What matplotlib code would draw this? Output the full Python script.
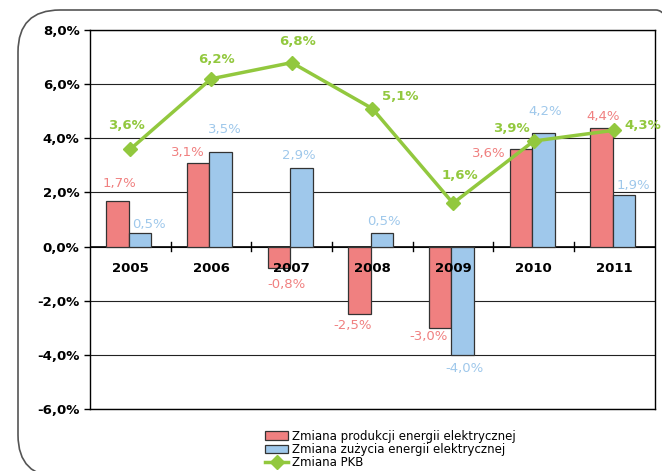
import numpy as np
import matplotlib.pyplot as plt
from matplotlib.patches import FancyBboxPatch

# data
years = ["2005", "2006", "2007", "2008", "2009", "2010", "2011"]
produkcja = [1.7, 3.1, -0.8, -2.5, -3.0, 3.6, 4.4]
zuzycie = [0.5, 3.5, 2.9, 0.5, -4.0, 4.2, 1.9]
pkb = [3.6, 6.2, 6.8, 5.1, 1.6, 3.9, 4.3]
yticks = [-6, -4, -2, 0, 2, 4, 6, 8]

red = "#F08080"
blue = "#9FC8EB"
green = "#92C83E"

# label offsets in pixels (dx, dy up)
red_off = [(0, 17), (-12, 10), (6, -16), (-8, -11), (-13, -9), (-34, -4), (0, 11)]
blue_off = [(7, 9), (3, 22), (-4, 13), (0, 12), (0, -14), (0, 21), (8, 10)]
pkb_off = [(-4, 24), (5, 19), (6, 21), (28, 12), (7, 28), (-22, 13), (28, 5)]

plt.rcParams["font.family"] = "DejaVu Sans"

fig = plt.figure(figsize=(6.62, 4.71), dpi=100)
ax = fig.add_axes([0.136, 0.132, 0.853, 0.804])

x = np.arange(len(years))
w = 0.28
px = 0.72  # points per pixel at dpi 100

# rounded outer frame, in pixels
frame = FancyBboxPatch((18, -6), 680, 467,
                       boxstyle="round,pad=0,rounding_size=42",
                       transform=None, fill=False,
                       edgecolor="#555555", linewidth=1.2, zorder=0)
fig.patches.append(frame)

ax.set_ylim(-6, 8)
ax.set_xlim(-0.5, len(years) - 0.5)
ax.set_yticks(yticks)
ax.set_yticklabels([f"{v:.1f}%".replace(".", ",") for v in yticks],
                   fontsize=9.5, fontweight="bold")
ax.grid(axis="y", color="#222222", linewidth=0.8)
ax.set_axisbelow(True)
ax.set_xticks([])
for s in ax.spines.values():
    s.set_color("black")
    s.set_linewidth(1.0)
ax.tick_params(axis="y", length=4, width=1)
ax.axhline(0, color="black", linewidth=1.2, zorder=1)

# category ticks on the zero line
for b in np.arange(0.5, len(years) - 0.5, 1):
    ax.plot([b, b], [-0.15, 0.15], color="black", linewidth=1, zorder=1)

b1 = ax.bar(x - w / 2 - 0.02, produkcja, w, color=red, edgecolor="#333333",
            linewidth=0.9, zorder=2, label="Zmiana produkcji energii elektrycznej")
b2 = ax.bar(x + w / 2 - 0.02, zuzycie, w, color=blue, edgecolor="#333333",
            linewidth=0.9, zorder=2, label="Zmiana zużycia energii elektrycznej")
(ln,) = ax.plot(x, pkb, color=green, linewidth=2.5, marker="D", markersize=7,
                zorder=4, label="Zmiana PKB")

# year labels under zero line
for xi, yr in zip(x, years):
    ax.text(xi, -0.8, yr, ha="center", va="center", fontsize=9.5,
            fontweight="bold", zorder=5)


def fmt(v):
    return f"{v:.1f}%".replace(".", ",")


for xi, v, o in zip(x, produkcja, red_off):
    ax.annotate(fmt(v), (xi - w / 2, v), xytext=(o[0] * px, o[1] * px),
                textcoords="offset points", ha="center", va="center",
                color=red, fontsize=9.5, zorder=5)
for xi, v, o in zip(x, zuzycie, blue_off):
    ax.annotate(fmt(v), (xi + w / 2, v), xytext=(o[0] * px, o[1] * px),
                textcoords="offset points", ha="center", va="center",
                color=blue, fontsize=9.5, zorder=5)
for xi, v, o in zip(x, pkb, pkb_off):
    ax.annotate(fmt(v), (xi, v), xytext=(o[0] * px, o[1] * px),
                textcoords="offset points", ha="center", va="center",
                color=green, fontsize=9.5, fontweight="bold", zorder=5)

fig.legend(handles=[b1, b2, ln], loc="upper left",
           bbox_to_anchor=(0.40, 0.088), frameon=False,
           fontsize=8.5, handlelength=2.0, handletextpad=0.3,
           labelspacing=0.02, borderaxespad=0, borderpad=0)

fig.savefig("out.png", dpi=100)
